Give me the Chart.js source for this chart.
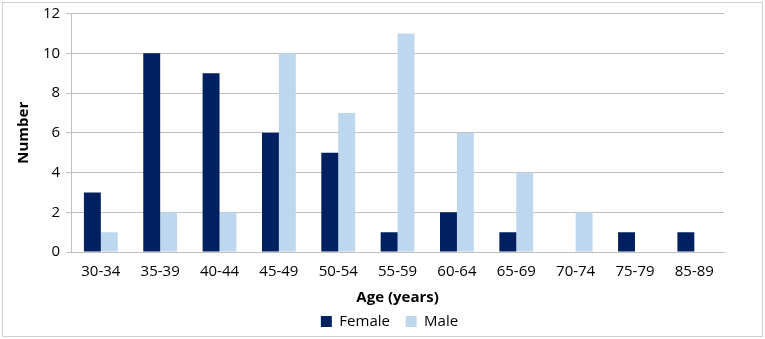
<!DOCTYPE html>
<html>
<head>
<meta charset="utf-8">
<script src="https://cdn.jsdelivr.net/npm/chart.js@4.4.1/dist/chart.umd.min.js"></script>
<style>
    html, body { margin: 0; padding: 0; background: #fff; }
    #wrap { position: absolute; left: 0; top: 0; width: 765px; height: 339px; }
    #frame {
        position: absolute; left: 2px; top: 2px;
        width: 761px; height: 335px;
        border: 1px solid #d0d0d0;
        box-sizing: border-box;
        pointer-events: none;
    }
</style>
</head>
<body>
<div id="wrap"><canvas id="ageChart"></canvas></div>
<div id="frame"></div>
<script>
const ageGroups = ["30-34", "35-39", "40-44", "45-49", "50-54", "55-59", "60-64", "65-69", "70-74", "75-79", "85-89"];
const femaleCounts = [3, 10, 9, 6, 5, 1, 2, 1, 0, 1, 1];
const maleCounts = [1, 2, 2, 10, 7, 11, 6, 4, 2, 0, 0];

const fontFamily = "'Open Sans', 'Liberation Sans', sans-serif";

// legend sits centred under the plot area rather than the whole canvas
const shiftLegend = {
    id: "shiftLegend",
    afterLayout(chart) {
        chart.legend.left += 22;
        chart.legend.right += 22;
    }
};

const ctx = document.getElementById("ageChart").getContext("2d");
new Chart(ctx, {
    type: "bar",
    data: {
        labels: ageGroups,
        datasets: [
            { label: "Female", data: femaleCounts, backgroundColor: "#002060" },
            { label: "Male", data: maleCounts, backgroundColor: "#BDD7EE" }
        ]
    },
    options: {
        responsive: true,
        maintainAspectRatio: false,
        animation: false,
        datasets: {
            bar: { categoryPercentage: 0.57, barPercentage: 1.0 }
        },
        layout: { padding: { top: 3, right: 41, bottom: 0, left: 11 } },
        scales: {
            x: {
                grid: { display: false },
                border: { display: true, color: "#bfbfbf" },
                ticks: { color: "#000", font: { family: fontFamily, size: 15 }, padding: 3 },
                title: {
                    display: true, text: "Age (years)", color: "#000",
                    font: { family: fontFamily, size: 15, weight: "bold" }, padding: { top: 5, bottom: 3 }
                }
            },
            y: {
                min: 0, max: 12,
                ticks: { stepSize: 2, color: "#000", font: { family: fontFamily, size: 15, lineHeight: 1.0 }, padding: 6 },
                grid: { color: "#bfbfbf", tickLength: 5 },
                border: { display: true, color: "#bfbfbf" },
                title: {
                    display: true, text: "Number", color: "#000",
                    font: { family: fontFamily, size: 15, weight: "bold" }, padding: { bottom: 4 }
                }
            }
        },
        plugins: {
            legend: {
                position: "bottom",
                labels: {
                    color: "#000", boxWidth: 11, boxHeight: 11, padding: 4,
                    font: { family: fontFamily, size: 15 },
                    // pad the first label so the gap between items matches the original
                    generateLabels: chart => Chart.defaults.plugins.legend.labels.generateLabels(chart)
                        .map((item, i) => ({ ...item, text: i === 0 ? item.text + "   " : item.text }))
                }
            },
            tooltip: { enabled: false }
        }
    },
    plugins: [shiftLegend]
});
</script>
</body>
</html>
